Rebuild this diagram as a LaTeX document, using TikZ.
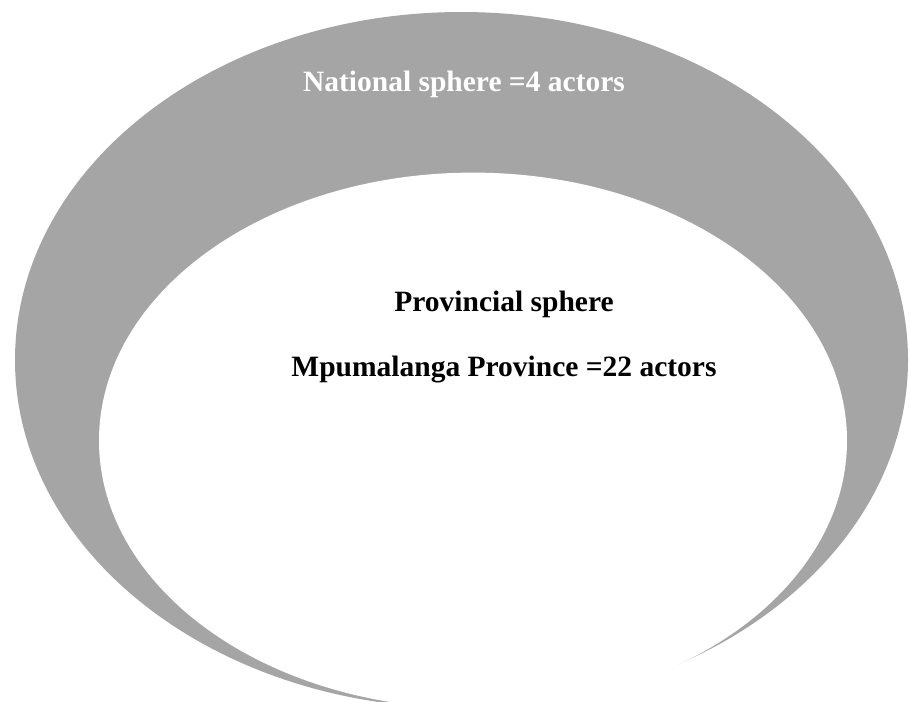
\documentclass[tikz,border=0pt]{standalone}
\usepackage{fontspec}
\setmainfont{Liberation Serif}
\definecolor{spheregray}{HTML}{A5A5A5}
\tikzset{
  lbl/.style={font=\bfseries\fontsize{29.5}{35}\selectfont, anchor=base, inner sep=0pt},
  whitelbl/.style={lbl, text=white},
  blacklbl/.style={lbl, text=black}
}
\begin{document}
\begin{tikzpicture}[x=1pt,y=-1pt]
  \useasboundingbox (0,0) rectangle (911,702);
  \clip (0,0) rectangle (911,702);
  \fill[white] (0,0) rectangle (911,702);
  % national sphere (outer)
  \fill[spheregray] (461.5pt,-360pt) ellipse [x radius=446.5pt, y radius=348pt];
  % provincial sphere (inner)
  \fill[white] (473pt,-440.6pt) ellipse [x radius=374pt, y radius=268pt];
  \node[whitelbl] (national) at (464,91) {National sphere =4 actors};
  \node[blacklbl] (provincial) at (504,311) {Provincial sphere};
  \node[blacklbl] (mpumalanga) at (504,376) {Mpumalanga Province =22 actors};
\end{tikzpicture}
\end{document}
